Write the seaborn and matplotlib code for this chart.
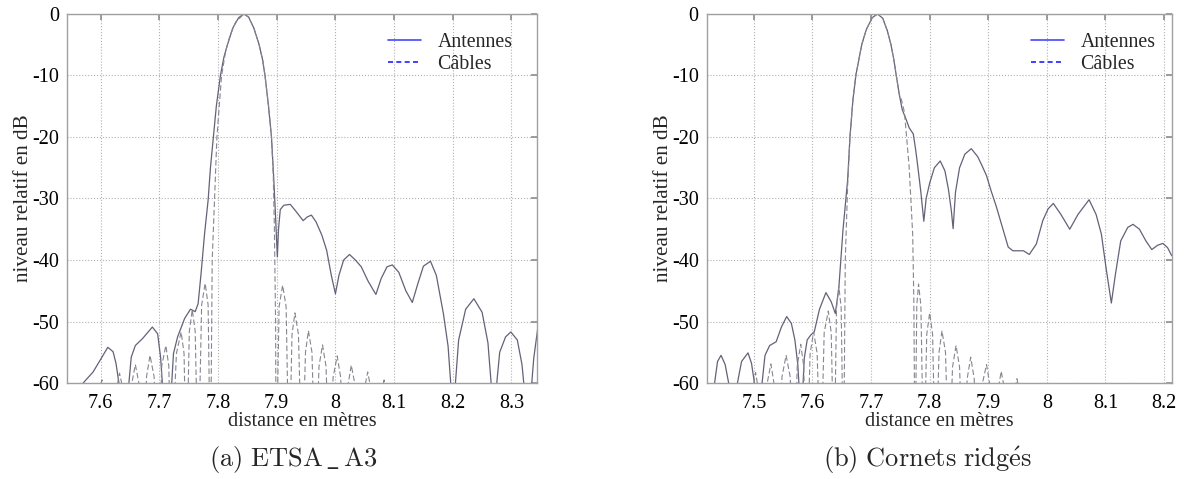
import matplotlib
matplotlib.use("Agg")
import matplotlib.pyplot as plt
from matplotlib.lines import Line2D
import seaborn as sns

sns.set_theme(style="white")
plt.rcParams["font.family"] = ["Liberation Serif", "DejaVu Serif"]
plt.rcParams["axes.unicode_minus"] = False
plt.rcParams["mathtext.fontset"] = "cm"

SOLID = "#626278"
DASHED = "#86868f"

# ---------------------------------------------------------
# (a) ETSA_A3 : antennes (solid) and cables (dashed)
# ---------------------------------------------------------
a_ant_x = [7.565, 7.570, 7.587, 7.602, 7.612, 7.621, 7.626, 7.631, 7.634,
           7.645, 7.648, 7.652, 7.659, 7.671, 7.688, 7.697, 7.702, 7.705, 7.708,
           7.717, 7.721, 7.724, 7.731, 7.743, 7.753, 7.761, 7.766, 7.771, 7.777, 7.783,
           7.787, 7.792, 7.797, 7.804, 7.810, 7.816, 7.825, 7.835, 7.844,
           7.852, 7.861, 7.870, 7.876, 7.880, 7.886, 7.891, 7.895, 7.898, 7.901,
           7.903, 7.906, 7.912, 7.923, 7.932, 7.945, 7.952, 7.959, 7.967, 7.977,
           7.985, 7.993, 8.000, 8.006, 8.014, 8.024, 8.034, 8.044, 8.056, 8.069,
           8.078, 8.088, 8.097, 8.108, 8.120, 8.131, 8.140, 8.150, 8.162, 8.172,
           8.184, 8.192, 8.198, 8.203, 8.210, 8.222, 8.236, 8.250, 8.260, 8.267,
           8.273, 8.280, 8.290, 8.299, 8.310, 8.318, 8.323, 8.333, 8.338, 8.345]
a_ant_y = [-63, -60, -58.2, -55.8, -54.2, -54.9, -56.8, -60, -63,
           -63, -60, -55.8, -53.9, -52.8, -50.9, -52.0, -55.8, -60, -63,
           -63, -60, -55.2, -52.5, -49.5, -48.0, -48.4, -47.1, -42.2, -35.7, -30.3,
           -25, -20, -15, -10, -7, -5, -2.3, -0.6, 0,
           -0.5, -2.3, -5, -7.5, -10, -15, -20, -27, -33, -39.5,
           -35, -31.8, -31.1, -30.95, -32, -33.6, -33.0, -32.7, -33.8, -36,
           -38.4, -42.5, -45.5, -42.5, -40, -39.1, -40, -41.1, -43.5, -45.6,
           -43, -41.1, -40.8, -42, -45, -46.9, -44, -41, -40.2, -42.5,
           -48.7, -54, -62, -62, -53, -48, -46.3, -48.5, -53.5, -62,
           -62, -55, -52.5, -51.7, -53, -57, -62, -62, -56, -51]

a_cab_x = [7.588, 7.596, 7.602, 7.609, 7.619,
           7.619, 7.626, 7.632, 7.639, 7.646,
           7.646, 7.652, 7.659, 7.666, 7.672,
           7.672, 7.678, 7.684, 7.691, 7.698,
           7.698, 7.704, 7.711, 7.716, 7.720,
           7.720, 7.729, 7.737, 7.742, 7.746,
           7.746, 7.751, 7.756, 7.761, 7.766,
           7.766, 7.772, 7.778, 7.783, 7.787,
           7.787, 7.790, 7.794, 7.798, 7.802, 7.806, 7.813, 7.820, 7.830, 7.844,
           7.852, 7.861, 7.870, 7.876, 7.880, 7.886, 7.891, 7.894, 7.896, 7.898, 7.899,
           7.899, 7.904, 7.910, 7.916, 7.921,
           7.921, 7.926, 7.931, 7.937, 7.943,
           7.943, 7.949, 7.954, 7.960, 7.966,
           7.966, 7.972, 7.978, 7.984, 7.990,
           7.990, 7.996, 8.003, 8.009, 8.015,
           8.015, 8.021, 8.027, 8.034, 8.040,
           8.040, 8.048, 8.055, 8.062, 8.068,
           8.068, 8.075, 8.083, 8.089, 8.095]
a_cab_y = [-75, -62, -59.5, -62, -75,
           -75, -61.5, -58.4, -61.5, -75,
           -75, -60.5, -57.0, -60.5, -75,
           -75, -59, -55.5, -59, -75,
           -75, -57.2, -53.9, -57.2, -75,
           -75, -55.2, -51.7, -55.2, -75,
           -75, -51.6, -48.1, -51.6, -75,
           -75, -47.3, -43.8, -47.3, -75,
           -75, -40, -30, -20, -15, -10, -6, -3.6, -1.3, 0,
           -0.5, -2.3, -5, -7.5, -10, -15, -20, -26, -35, -50, -75,
           -75, -47.6, -44.1, -47.6, -75,
           -75, -52.1, -48.6, -52.1, -75,
           -75, -55, -51.5, -55, -75,
           -75, -57.3, -53.8, -57.3, -75,
           -75, -59.1, -55.6, -59.1, -75,
           -75, -60.6, -57.1, -60.6, -75,
           -75, -61.7, -58.2, -61.7, -75,
           -75, -63, -59.5, -63, -75]

a_xticks = [7.6, 7.7, 7.8, 7.9, 8.0, 8.1, 8.2, 8.3]
a_xlabels = ["7.6", "7.7", "7.8", "7.9", "8", "8.1", "8.2", "8.3"]

# ---------------------------------------------------------
# (b) Cornets ridges
# ---------------------------------------------------------
b_ant_x = [7.428, 7.433, 7.438, 7.444, 7.451, 7.458, 7.463,
           7.468, 7.472, 7.479, 7.490, 7.496, 7.501, 7.504,
           7.511, 7.514, 7.519, 7.527, 7.538, 7.547, 7.556, 7.564, 7.570, 7.575, 7.578,
           7.583, 7.586, 7.591, 7.597, 7.603, 7.612, 7.623, 7.632, 7.639, 7.645, 7.652, 7.660,
           7.664, 7.669, 7.674, 7.684, 7.692, 7.702, 7.711, 7.720, 7.728, 7.734, 7.739,
           7.743, 7.748, 7.753, 7.760, 7.765, 7.772, 7.776, 7.780, 7.785, 7.790,
           7.794, 7.800, 7.808, 7.818, 7.826, 7.832, 7.837, 7.840, 7.844, 7.851,
           7.860, 7.871, 7.882, 7.890, 7.897, 7.905, 7.914, 7.926, 7.934, 7.942,
           7.948, 7.960, 7.970, 7.982, 7.993, 8.002, 8.011, 8.024, 8.039, 8.053,
           8.072, 8.084, 8.093, 8.101, 8.110, 8.117, 8.126, 8.138, 8.147, 8.158,
           8.169, 8.179, 8.189, 8.198, 8.206, 8.213]
b_ant_y = [-65, -60, -56.5, -55.5, -57, -60.5, -65,
           -65, -60, -56.5, -55.1, -56.8, -60, -65,
           -65, -60, -55.5, -53.9, -53.3, -50.9, -49.2, -50.3, -53, -57, -62,
           -62, -56, -53, -52.2, -51.7, -48, -45.3, -46.8, -48.7, -44.5, -35.2, -27,
           -20, -14, -10, -5, -2.5, -0.6, 0, -0.7, -2.8, -5, -7.5,
           -10, -13, -15.5, -17.2, -18.5, -19.5, -22, -25, -29, -33.7,
           -30, -27.5, -25, -23.9, -25.5, -28.5, -32, -34.9, -29, -25,
           -22.8, -21.9, -23.2, -24.8, -26.3, -28.8, -31.4, -35.3, -37.9, -38.5,
           -38.5, -38.5, -39.1, -37.4, -33.6, -31.7, -30.8, -32.6, -35.0, -32.6,
           -30.2, -32.6, -35.8, -41.3, -47.0, -42.3, -36.9, -34.7, -34.2, -35.0,
           -36.9, -38.3, -37.6, -37.3, -38.0, -39.3]

b_cab_x = [7.490, 7.497, 7.503, 7.509, 7.516,
           7.516, 7.522, 7.529, 7.535, 7.541,
           7.541, 7.548, 7.555, 7.562, 7.569,
           7.569, 7.574, 7.580, 7.585, 7.590,
           7.590, 7.596, 7.602, 7.608, 7.614,
           7.614, 7.620, 7.627, 7.632, 7.637,
           7.637, 7.641, 7.645, 7.649, 7.653,
           7.653, 7.656, 7.660, 7.664, 7.669, 7.674, 7.684, 7.692, 7.702, 7.711,
           7.720, 7.728, 7.734, 7.739, 7.743, 7.748, 7.752, 7.757, 7.765, 7.771, 7.773, 7.775,
           7.775, 7.778, 7.781, 7.785, 7.790,
           7.790, 7.795, 7.800, 7.805, 7.810,
           7.810, 7.816, 7.821, 7.827, 7.833,
           7.833, 7.839, 7.845, 7.851, 7.857,
           7.857, 7.864, 7.870, 7.876, 7.882,
           7.882, 7.889, 7.897, 7.903, 7.910,
           7.910, 7.916, 7.922, 7.929, 7.935,
           7.935, 7.942, 7.949, 7.956, 7.962]
b_cab_y = [-75, -61.8, -58.3, -61.8, -75,
           -75, -60.4, -56.9, -60.4, -75,
           -75, -59, -55.5, -59, -75,
           -75, -57.2, -53.7, -57.2, -75,
           -75, -55.2, -51.7, -55.2, -75,
           -75, -51.8, -48.3, -51.8, -75,
           -75, -47.8, -44.3, -47.8, -75,
           -75, -40, -28, -20, -14, -10, -5, -2.5, -0.6, 0,
           -0.7, -2.8, -5, -7.5, -10, -13, -14, -16, -24.9, -35.8, -46.7, -75,
           -75, -47.4, -43.9, -47.4, -75,
           -75, -52.1, -48.6, -52.1, -75,
           -75, -55, -51.5, -55, -75,
           -75, -57.4, -53.9, -57.4, -75,
           -75, -59.3, -55.8, -59.3, -75,
           -75, -60.5, -57.0, -60.5, -75,
           -75, -61.6, -58.1, -61.6, -75,
           -75, -62.8, -59.3, -62.8, -75]

b_xticks = [7.5, 7.6, 7.7, 7.8, 7.9, 8.0, 8.1, 8.2]
b_xlabels = ["7.5", "7.6", "7.7", "7.8", "7.9", "8", "8.1", "8.2"]

yticks = [0, -10, -20, -30, -40, -50, -60]
ylabels = ["0", "-10", "-20", "-30", "-40", "-50", "-60"]
legend_labels = ["Antennes", "C\u00e2bles"]

panels = [
    dict(rect=[0.0565, 0.2004, 0.3941, 0.7704], xlim=(7.543, 8.343),
         ant=(a_ant_x, a_ant_y), cab=(a_cab_x, a_cab_y),
         xt=a_xticks, xl=a_xlabels, cap=r"$\mathrm{(a)\ ETSA\,\_\,A3}$",
         capx=0.246, leg=(0.683, 0.948)),
    dict(rect=[0.5936, 0.2004, 0.3902, 0.7704], xlim=(7.42, 8.213),
         ant=(b_ant_x, b_ant_y), cab=(b_cab_x, b_cab_y),
         xt=b_xticks, xl=b_xlabels, cap=r"$\mathrm{(b)\ Cornets\ ridg\acute{e}s}$",
         capx=0.779, leg=(0.697, 0.948)),
]

fig = plt.figure(figsize=(11.91, 4.79), dpi=100)

for p in panels:
    ax = fig.add_axes(p["rect"])
    sns.lineplot(x=p["ant"][0], y=p["ant"][1], ax=ax, sort=False, estimator=None,
                 color=SOLID, linewidth=0.9)
    sns.lineplot(x=p["cab"][0], y=p["cab"][1], ax=ax, sort=False, estimator=None,
                 color=DASHED, linewidth=0.8)
    ax.lines[-1].set_linestyle((0, (5, 2.5)))
    ax.set_xlim(*p["xlim"])
    ax.set_ylim(-60, 0)
    ax.set_xticks(p["xt"])
    ax.set_xticklabels(p["xl"])
    ax.set_yticks(yticks)
    ax.set_yticklabels(ylabels)
    ax.grid(True, linestyle=":", color="#b0b0b0", linewidth=0.8)
    for s in ax.spines.values():
        s.set_color("#a0a0a0")
        s.set_linewidth(1.0)
    ax.tick_params(direction="in", length=4, color="#909090", labelsize=14.5,
                   top=True, right=True, labelcolor="black", pad=6)
    ax.tick_params(axis="x", pad=8)
    ax.set_xlabel("distance en m\u00e8tres", fontsize=14.5, labelpad=-1)
    ax.set_ylabel("niveau relatif en dB", fontsize=15.2, labelpad=-1)
    handles = [Line2D([], [], color="#4545ff", linewidth=1.2),
               Line2D([], [], color="#2020ff", linewidth=1.2, linestyle=(0, (3, 2)))]
    ax.legend(handles, legend_labels, loc="upper left", bbox_to_anchor=p["leg"],
              frameon=False, fontsize=14.3, handlelength=1.65, handletextpad=0.85,
              labelspacing=0.15, borderpad=0, borderaxespad=0)
    fig.text(p["capx"], 0.04, p["cap"], fontsize=19, ha="center", va="center")

fig.savefig("out.png", dpi=100)
